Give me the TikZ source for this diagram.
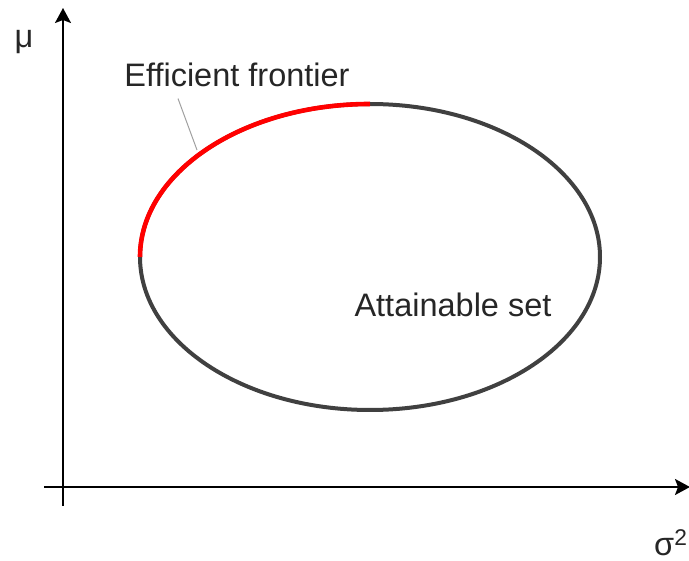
\documentclass[tikz,border=0pt]{standalone}
\usepackage{fontspec}
\setmainfont{Liberation Sans}
\usetikzlibrary{arrows.meta}
\definecolor{curvegray}{HTML}{404040}
\definecolor{txtgray}{HTML}{262626}
\definecolor{leadgray}{HTML}{A0A0A0}
\tikzset{
  axis/.style={line width=1.8pt, black, -{Stealth[length=15pt, width=16pt, inset=3pt]}},
  lbl/.style={font=\fontsize{32.5}{38}\selectfont, text=txtgray, inner sep=0pt, anchor=base},
  setcurve/.style={line width=4pt, curvegray},
  frontier/.style={line width=4.6pt, red},
  leader/.style={line width=1pt, leadgray}
}
\begin{document}
\begin{tikzpicture}[x=1pt, y=-1pt]
\useasboundingbox (0,0) rectangle (689,561);
% axes
\coordinate (ybot) at (63,506);
\coordinate (ytop) at (63,8);
\coordinate (xleft) at (44,487);
\coordinate (xright) at (690,487);
\draw[axis] (ybot) -- (ytop);
\draw[axis] (xleft) -- (xright);
% ellipse (attainable set)
\coordinate (c) at (370,257);
\draw[setcurve] (c) ellipse [x radius=230, y radius=153];
% efficient frontier
\draw[frontier] (140,257) arc [start angle=180, end angle=270, x radius=230, y radius=153];
% labels
\node[lbl] (mu) at (24,48) {μ};
\node[lbl, anchor=base west] (sig) at (654,555) {σ\textsuperscript{2}};
\node[lbl] (eff) at (237,87) {Efficient frontier};
\node[lbl] (att) at (453,317) {Attainable set};
% leader
\coordinate (lead) at (197,150);
\draw[leader] ([xshift=-59pt, yshift=-11pt]eff.south) -- (lead);
\end{tikzpicture}
\end{document}
